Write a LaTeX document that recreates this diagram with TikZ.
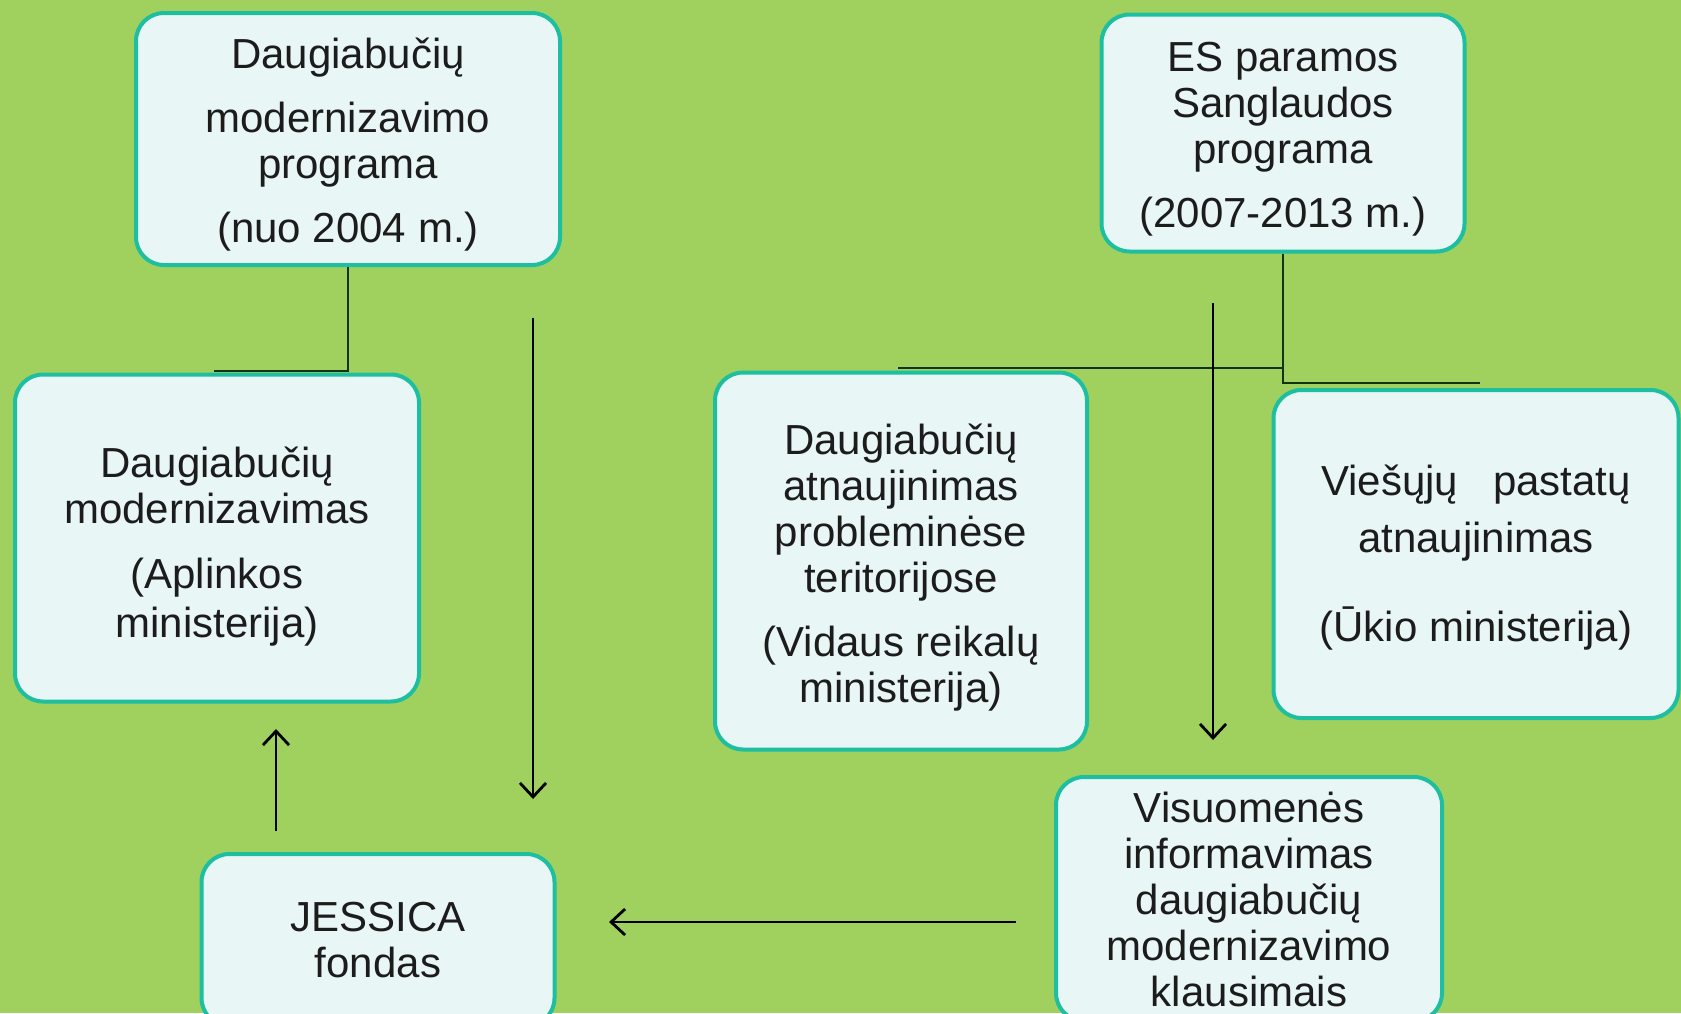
\documentclass[tikz,border=0pt]{standalone}
\usepackage{fontspec}
\setmainfont{Liberation Sans}
\usetikzlibrary{arrows.meta}
\definecolor{bggreen}{RGB}{160,209,94}
\definecolor{boxfill}{RGB}{232,247,245}
\definecolor{boxline}{RGB}{30,190,160}
\definecolor{ink}{RGB}{28,28,28}
\definecolor{darkline}{RGB}{20,50,20}
\newcommand{\lift}[1]{\rule{0pt}{#1}}
\tikzset{
  box/.style={draw=boxline, line width=4pt, fill=boxfill, rounded corners=28pt,
    inner sep=0pt, align=center, text=ink,
    font=\fontsize{42}{46}\selectfont},
  link/.style={draw=darkline, line width=2.4pt},
  arr/.style={draw=black, line width=2.6pt,
    -{Straight Barb[length=14pt,width=26pt,line width=2.8pt]}}
}
\begin{document}
\begin{tikzpicture}[x=1pt,y=-1pt]
\clip (0,0) rectangle (1681,1013);
\fill[bggreen] (0,0) rectangle (1681,1013);

% boxes
\node[box, minimum width=424pt, minimum height=252pt] (b1) at (348,139)
  {\lift{42pt}Daugiabučių\\[18pt]modernizavimo\\programa\\[18pt](nuo 2004 m.)};
\node[box, minimum width=404pt, minimum height=327pt] (b2) at (217,538)
  {\lift{48pt}Daugiabučių\\modernizavimas\\[19pt](Aplinkos\\[3pt]ministerija)};
\node[box, minimum width=372pt, minimum height=377pt] (b3) at (901,561)
  {\lift{44pt}Daugiabučių\\atnaujinimas\\probleminėse\\teritorijose\\[18pt](Vidaus reikalų\\ministerija)};
\node[box, minimum width=405pt, minimum height=328pt] (b4) at (1476,554)
  {\lift{37pt}Viešųjų~~ pastatų\\[11pt]atnaujinimas\\[43pt](Ūkio ministerija)};
\node[box, minimum width=363pt, minimum height=237pt] (b5) at (1283,133)
  {\lift{42pt}ES paramos\\Sanglaudos\\programa\\[18pt](2007-2013 m.)};
\node[box, minimum width=353pt, minimum height=172pt] (b6) at (378,940)
  {JESSICA\\fondas};
\node[box, minimum width=386pt, minimum height=244pt] (b7) at (1249,899)
  {Visuomenės\\informavimas\\daugiabučių\\modernizavimo\\klausimais};

% tree connectors
\coordinate (c1) at (214,371);
\draw[link] (b1.south) |- (c1);
\coordinate (c2) at (898,368);
\coordinate (c3) at (1480,383);
\draw[link] (b5.south) |- (c2);
\draw[link] (b5.south |- c2) |- (c3);

% free arrows
\coordinate (a1s) at (533,318);
\coordinate (a1e) at (533,799);
\draw[arr] (a1s) -- (a1e);
\coordinate (a2s) at (276,831);
\coordinate (a2e) at (276,729);
\draw[arr] (a2s) -- (a2e);
\coordinate (a3s) at (1213,303);
\coordinate (a3e) at (1213,740);
\draw[arr] (a3s) -- (a3e);
\coordinate (a4s) at (1016,922);
\coordinate (a4e) at (609,922);
\draw[arr] (a4s) -- (a4e);
\end{tikzpicture}
\end{document}
